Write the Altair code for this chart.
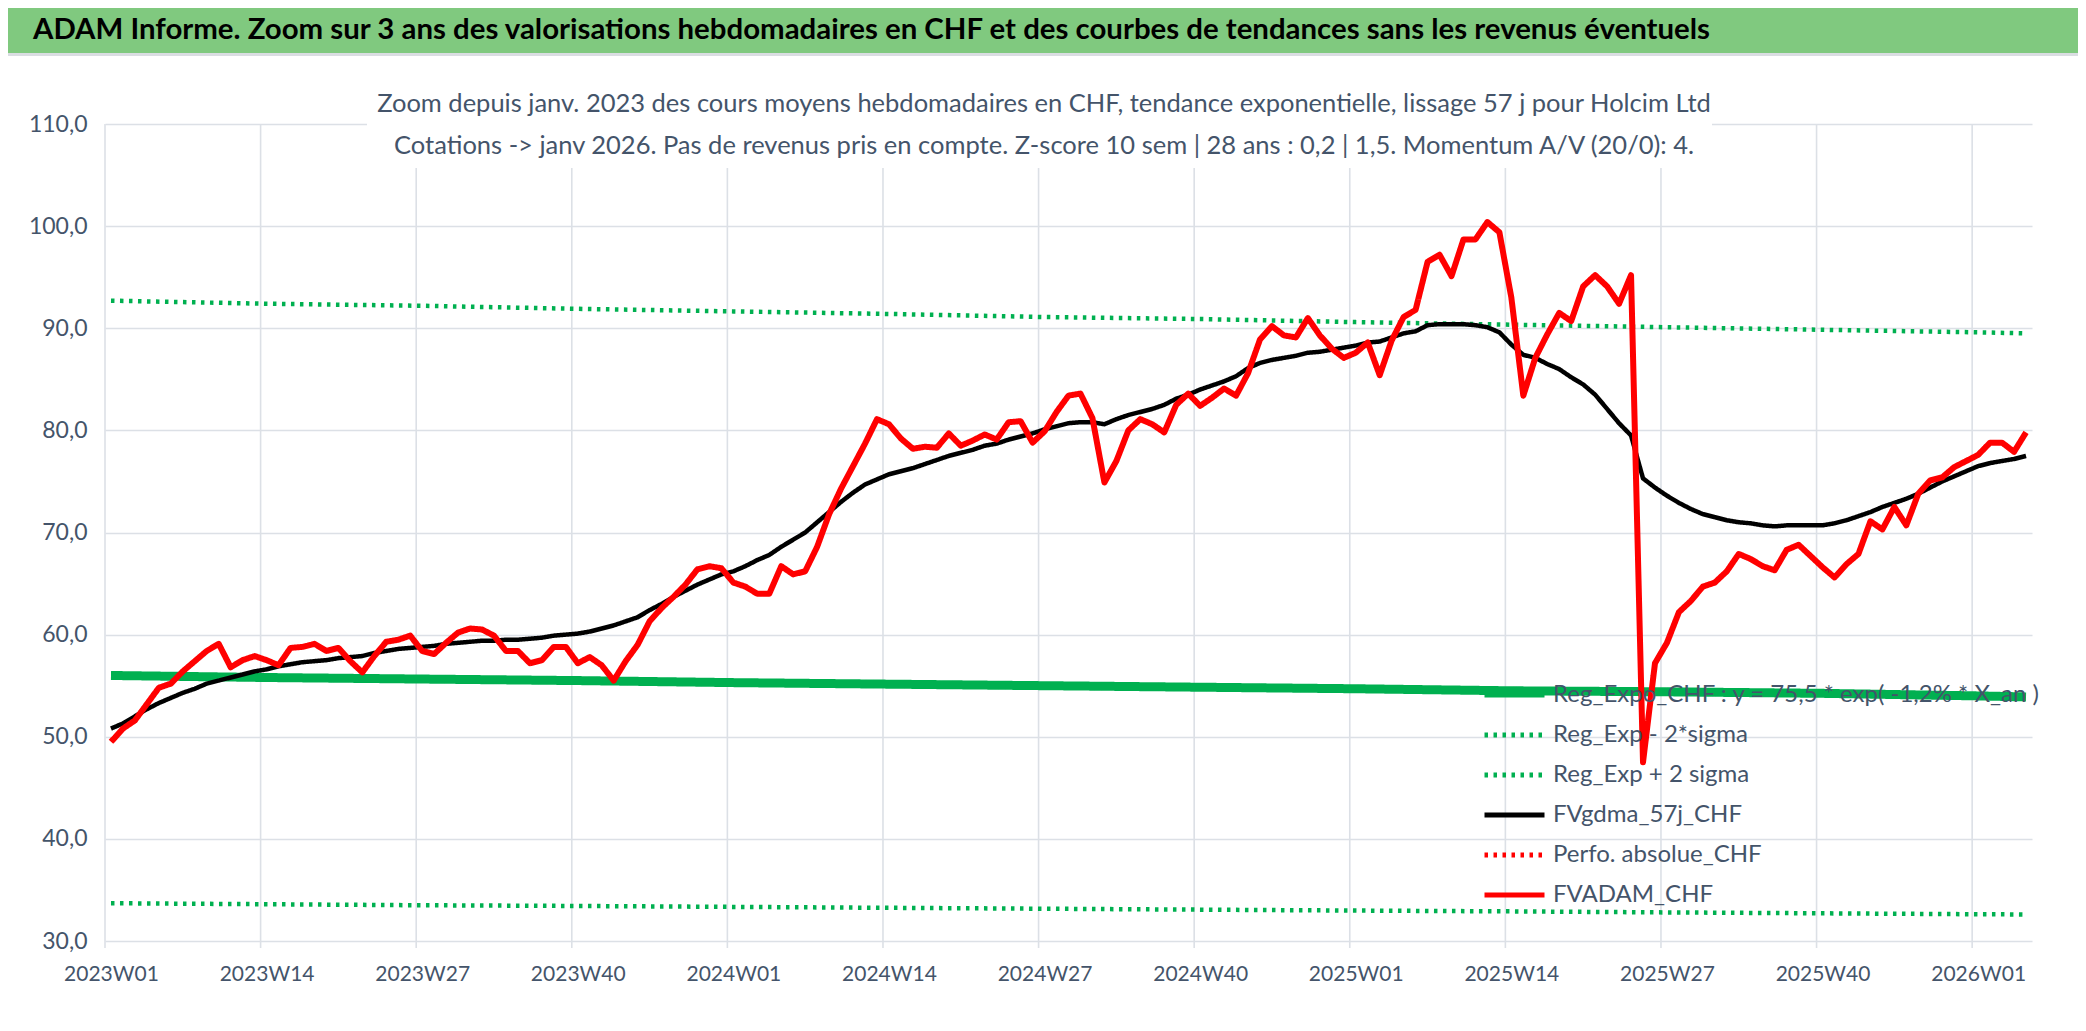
import altair as alt
import pandas as pd

# ---------------- data ----------------
WEEKS = [f"{y}W{w:02d}" for y in (2023, 2024, 2025) for w in range(1, 53)] + [f"2026W{w:02d}" for w in range(1, 6)]

FVADAM = [49.5, 50.8, 51.6, 53.2, 54.8, 55.2, 56.4, 57.4, 58.4, 59.1,
          56.8, 57.5, 57.9, 57.5, 57.0, 58.7, 58.8, 59.1, 58.4, 58.7,
          57.4, 56.3, 57.9, 59.3, 59.5, 59.9, 58.4, 58.1, 59.2, 60.2,
          60.6, 60.5, 59.9, 58.4, 58.4, 57.2, 57.5, 58.8, 58.8, 57.2,
          57.8, 57.0, 55.5, 57.4, 59.0, 61.3, 62.6, 63.7, 64.9, 66.4,
          66.7, 66.5, 65.1, 64.7, 64.0, 64.0, 66.7, 65.9, 66.2, 68.6,
          71.8, 74.3, 76.5, 78.7, 81.1, 80.6, 79.2, 78.2, 78.4, 78.3,
          79.7, 78.5, 79.0, 79.6, 79.1, 80.8, 80.9, 78.8, 79.9, 81.8,
          83.4, 83.6, 81.2, 74.9, 77.0, 80.0, 81.1, 80.6, 79.8, 82.5,
          83.6, 82.4, 83.2, 84.1, 83.4, 85.6, 88.9, 90.2, 89.3, 89.1,
          91.0, 89.3, 88.0, 87.1, 87.6, 88.6, 85.4, 88.8, 91.1, 91.8,
          96.5, 97.2, 95.1, 98.7, 98.7, 100.4, 99.4, 93.0, 83.4, 87.1,
          89.4, 91.5, 90.7, 94.1, 95.2, 94.1, 92.4, 95.2, 47.5, 57.2,
          59.2, 62.2, 63.3, 64.7, 65.1, 66.2, 67.9, 67.4, 66.7, 66.3,
          68.3, 68.8, 67.7, 66.6, 65.6, 66.9, 67.9, 71.1, 70.3, 72.5,
          70.7, 73.8, 75.1, 75.4, 76.4, 77.0, 77.6, 78.8, 78.8, 77.9,
          79.8]

FVGDMA = [50.8, 51.3, 52.0, 52.7, 53.3, 53.8, 54.3, 54.7, 55.2, 55.5,
          55.8, 56.1, 56.4, 56.6, 56.9, 57.1, 57.3, 57.4, 57.5, 57.7,
          57.8, 57.9, 58.2, 58.4, 58.6, 58.7, 58.8, 58.9, 59.1, 59.2,
          59.3, 59.4, 59.4, 59.5, 59.5, 59.6, 59.7, 59.9, 60.0, 60.1,
          60.3, 60.6, 60.9, 61.3, 61.7, 62.4, 63.0, 63.7, 64.3, 64.9,
          65.4, 65.9, 66.2, 66.7, 67.3, 67.8, 68.6, 69.3, 70.0, 71.0,
          72.0, 73.0, 73.9, 74.7, 75.2, 75.7, 76.0, 76.3, 76.7, 77.1,
          77.5, 77.8, 78.1, 78.5, 78.7, 79.1, 79.4, 79.7, 80.1, 80.4,
          80.7, 80.8, 80.8, 80.6, 81.1, 81.5, 81.8, 82.1, 82.5, 83.1,
          83.5, 84.0, 84.4, 84.8, 85.3, 86.1, 86.6, 86.9, 87.1, 87.3,
          87.6, 87.7, 87.9, 88.1, 88.3, 88.6, 88.7, 89.1, 89.5, 89.7,
          90.3, 90.4, 90.4, 90.4, 90.3, 90.1, 89.6, 88.4, 87.4, 87.1,
          86.5, 86.0, 85.2, 84.5, 83.5, 82.1, 80.7, 79.5, 75.3, 74.4,
          73.6, 72.9, 72.3, 71.8, 71.5, 71.2, 71.0, 70.9, 70.7, 70.6,
          70.7, 70.7, 70.7, 70.7, 70.9, 71.2, 71.6, 72.0, 72.5, 72.9,
          73.3, 73.8, 74.4, 75.0, 75.5, 76.0, 76.5, 76.8, 77.0, 77.2,
          77.5]

TREND_IDX = [0, 13, 26, 39, 52, 65, 78, 91, 104, 117, 130, 143, 156, 160]
REG_EXPO = [56.0, 55.8, 55.65, 55.5, 55.3, 55.15, 55.0, 54.85, 54.7, 54.5, 54.4, 54.25, 54.0, 53.9]
REG_PLUS = [92.7, 92.4, 92.2, 91.9, 91.65, 91.4, 91.1, 90.9, 90.6, 90.35, 90.1, 89.85, 89.6, 89.5]
REG_MINUS = [33.7, 33.6, 33.5, 33.43, 33.34, 33.25, 33.16, 33.07, 32.98, 32.9, 32.8, 32.71, 32.62, 32.6]

LABEL_IDX = list(range(0, 157, 13))
Y_TICKS = [30, 40, 50, 60, 70, 80, 90, 100, 110]

S_EXPO = "Reg_Expo_CHF : y = 75,5 * exp( -1,2% * X_an )"
S_MINUS = "Reg_Exp - 2*sigma"
S_PLUS = "Reg_Exp + 2 sigma"
S_GDMA = "FVgdma_57j_CHF"
S_PERF = "Perfo. absolue_CHF"
S_ADAM = "FVADAM_CHF"
SERIES = [S_EXPO, S_MINUS, S_PLUS, S_GDMA, S_PERF, S_ADAM]
COLORS = ["#00B050", "#00B050", "#00B050", "#000000", "#FF0000", "#FF0000"]
DOT = [3.5, 5.5]
DASHES = [[1, 0], DOT, DOT, [1, 0], DOT, [1, 0]]

TITLE = "ADAM Informe. Zoom sur 3 ans des valorisations hebdomadaires en CHF et des courbes de tendances sans les revenus éventuels"
SUB1 = "Zoom depuis janv. 2023 des cours moyens hebdomadaires en CHF, tendance exponentielle, lissage 57 j pour Holcim Ltd"
SUB2 = "Cotations -> janv 2026. Pas de revenus pris en compte. Z-score 10 sem | 28 ans : 0,2 | 1,5. Momentum A/V (20/0): 4."

# ---------------- style ----------------
FONT = "Lato"
TXT = "#44546A"
GRID = "#DCE0E6"
W, H = 1927, 817

def series_df(name, idx, vals):
    return pd.DataFrame({"idx": idx, "v": vals, "s": name})

xscale = alt.Scale(domain=[-0.5, 160.5], nice=False, zero=False)
yscale = alt.Scale(domain=[30, 110], nice=False, zero=False)
week_expr = ("toString(2023 + floor(datum.value / 52)) + 'W' + "
             "((datum.value % 52) < 9 ? '0' : '') + toString((datum.value % 52) + 1)")
xaxis = alt.Axis(values=LABEL_IDX, labelExpr=week_expr, grid=False, ticks=False,
                 tickSize=0, domain=False, title=None, labelFont=FONT, labelFontSize=21,
                 labelColor=TXT, labelPadding=33, labelBaseline="middle", labelFlush=False,
                 labelOverlap=False)
yaxis = alt.Axis(values=Y_TICKS, labelExpr="replace(format(datum.value, '.1f'), '.', ',')",
                 grid=True, gridColor=GRID, gridWidth=1.6, ticks=False, tickSize=0, domain=False,
                 title=None, labelFont=FONT, labelFontSize=23, labelColor=TXT, labelPadding=18)
legend = alt.Legend(orient="none", legendX=1377, legendY=551, title=None, labelFont=FONT,
                    labelFontSize=24, labelColor=TXT, labelLimit=1500, symbolType="stroke",
                    symbolSize=3600, symbolStrokeWidth=5, clipHeight=40, rowPadding=0,
                    labelOffset=6, zindex=0, padding=0)
cscale = alt.Scale(domain=SERIES, range=COLORS)
dscale = alt.Scale(domain=SERIES, range=DASHES)

def line_layer(df, width):
    return alt.Chart(df).mark_line(strokeWidth=width, strokeJoin="round").encode(
        x=alt.X("idx:Q", scale=xscale, axis=xaxis),
        y=alt.Y("v:Q", scale=yscale, axis=yaxis),
        color=alt.Color("s:N", scale=cscale, legend=legend),
        strokeDash=alt.StrokeDash("s:N", scale=dscale, legend=legend),
    )

one = pd.DataFrame({"k": [0]})

banner = alt.Chart(one).mark_rect(color="#80C97F").encode(
    x=alt.value(-97), x2=alt.value(1973), y=alt.value(-116), y2=alt.value(-71))
strip = alt.Chart(one).mark_rect(color="#DADDE2").encode(
    x=alt.value(-97), x2=alt.value(1973), y=alt.value(-71), y2=alt.value(-68))

vgrid = alt.Chart(pd.DataFrame({"idx": [i - 0.5 for i in LABEL_IDX]})).mark_rule(
    color=GRID, strokeWidth=1.6).encode(
    x=alt.X("idx:Q", scale=xscale, axis=xaxis), y=alt.value(0), y2=alt.value(H + 7))

whitebox = alt.Chart(one).mark_rect(color="white").encode(
    x=alt.value(262), x2=alt.value(1607), y=alt.value(-4), y2=alt.value(44))

title = alt.Chart(pd.DataFrame({"t": [TITLE]})).mark_text(
    align="left", baseline="middle", font=FONT, fontSize=29.4, fontWeight="bold", color="black").encode(
    x=alt.value(-72), y=alt.value(-94), text="t:N")
sub1 = alt.Chart(pd.DataFrame({"t": [SUB1]})).mark_text(
    align="center", baseline="middle", font=FONT, fontSize=25.5, color=TXT).encode(
    x=alt.value(939), y=alt.value(-20), text="t:N")
sub2 = alt.Chart(pd.DataFrame({"t": [SUB2]})).mark_text(
    align="center", baseline="middle", font=FONT, fontSize=25.5, color=TXT).encode(
    x=alt.value(939), y=alt.value(22), text="t:N")

n = len(WEEKS)
layers = [
    banner, strip, vgrid, whitebox,
    line_layer(series_df(S_EXPO, TREND_IDX, REG_EXPO), 9),
    line_layer(series_df(S_MINUS, TREND_IDX, REG_MINUS), 4.5),
    line_layer(series_df(S_PLUS, TREND_IDX, REG_PLUS), 4.5),
    line_layer(series_df(S_GDMA, list(range(n)), FVGDMA), 4.5),
    line_layer(series_df(S_ADAM, list(range(n)), FVADAM), 6),
    title, sub1, sub2,
]

chart = alt.layer(*layers).properties(
    width=W, height=H,
    autosize=alt.AutoSizeParams(type="none"),
    padding={"left": 97, "top": 116, "right": 46, "bottom": 82},
    background="white",
).configure_view(stroke=None)

chart.save("out.html", embed_options={"renderer": "svg", "actions": False})
